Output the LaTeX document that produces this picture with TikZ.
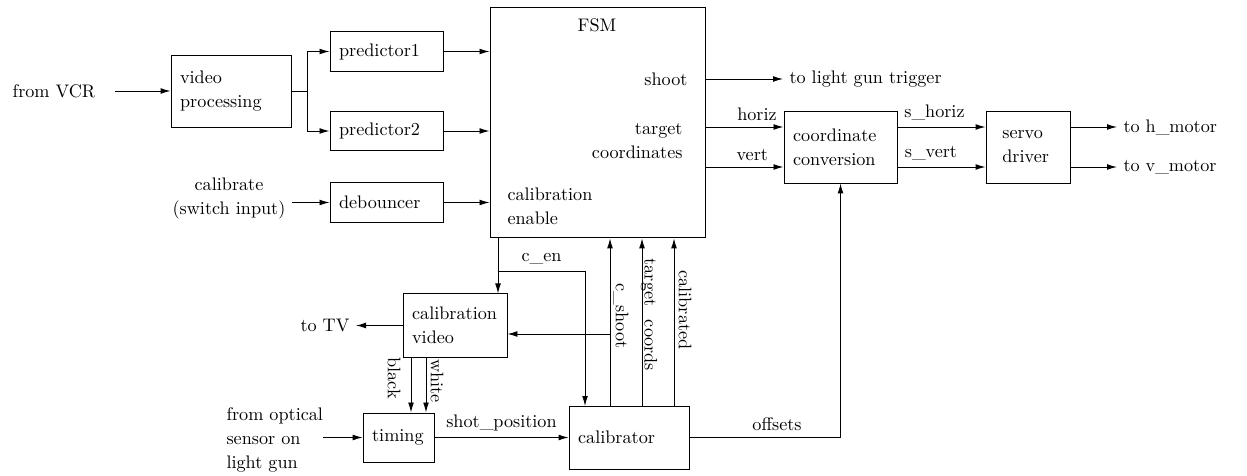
\documentclass[tikz,border=0pt]{standalone}
\usepackage{tikz}
\usetikzlibrary{arrows.meta}

\begin{document}
\begin{tikzpicture}[x=0.55pt,y=-0.55pt,line width=0.5pt,
    >={Latex[length=5.5pt,width=3.2pt]},
    every node/.style={font=\linespread{1.1}\selectfont},
    blk/.style={draw,align=left,inner xsep=5pt,minimum height=21.5pt},
    rot/.style={rotate=-90}]
    \useasboundingbox (0,0) rectangle (1247,476);
    % blocks
    \node[blk,text width=56pt,minimum height=39.6pt] (vp) at (231,91) {video\\processing};
    \node[blk,text width=52.2pt] (pred1) at (386.5,51.5) {predictor1};
    \node[blk,text width=52.2pt] (pred2) at (386.5,131) {predictor2};
    \node[blk,text width=52.2pt] (deb) at (386.5,202.5) {debouncer};
    \node[draw,minimum width=118.3pt,minimum height=127pt] (fsm) at (597.5,122.5) {};
    \node[blk,text width=52.2pt,minimum height=39.6pt] (cc) at (840.5,147) {coordinate\\conversion};
    \node[blk,inner xsep=9pt,text width=28.2pt,minimum height=39.6pt] (sd) at (1028,147) {servo\\driver};
    \node[blk,text width=47.2pt,minimum height=34.7pt] (cv) at (455,325.5) {calibration\\video};
    \node[blk,text width=29pt,minimum height=27pt] (tim) at (398.5,437.5) {timing};
    \node[blk,text width=56pt,minimum height=34.7pt] (cal) at (629,437.5) {calibrator};
    % text inside the FSM
    \node (fsmname) at (597,25) {FSM};
    \node[anchor=east] (shoot) at (694,79) {shoot};
    \node[anchor=east,align=right] (tcoord) at (689,141) {target\\coordinates};
    \node[anchor=west,align=left] (cenable) at (501,206) {calibration\\enable};
    % inputs and outputs
    \node (vcr) at (54,91) {from VCR};
    \node[align=center] (calsw) at (229,198) {calibrate\\(switch input)};
    \node[anchor=west,align=left] (optic) at (220,440) {from optical\\sensor on\\light gun};
    \node[anchor=east] (tv) at (356,325.5) {to TV};
    \node[anchor=west] (trig) at (783,79) {to light gun trigger};
    \node[anchor=west] (hmot) at (1117,127) {to h\_motor};
    \node[anchor=west] (vmot) at (1117,167) {to v\_motor};
    % front end
    \draw[->,shorten <=7pt] (vcr.east) -- (vp.west);
    \coordinate (split) at (307,91);
    \draw (vp.east) -- (split);
    \draw[->] (split) |- (pred1.west);
    \draw[->] (split) |- (pred2.west);
    \draw[->] (calsw.east |- deb.west) -- (deb.west);
    \draw[->] (pred1.east) -- (pred1.east -| fsm.west);
    \draw[->] (pred2.east) -- (pred2.east -| fsm.west);
    \draw[->] (deb.east) -- (deb.east -| fsm.west);
    % FSM outputs
    \draw[->] (fsm.east |- shoot) -- (trig.west);
    \draw[->] (fsm.east |- hmot) -- node[pos=0.66,above] (lhoriz) {horiz} (cc.west |- hmot);
    \draw[->] (fsm.east |- vmot) -- node[pos=0.6,above] (lvert) {vert} (cc.west |- vmot);
    \draw[->] (cc.east |- hmot) -- node[pos=0.42,above] (lshoriz) {s\_horiz} (sd.west |- hmot);
    \draw[->] (cc.east |- vmot) -- node[pos=0.38,above] (lsvert) {s\_vert} (sd.west |- vmot);
    \draw[->] (sd.east |- hmot) -- (hmot.west);
    \draw[->] (sd.east |- vmot) -- (vmot.west);
    % calibration loop
    \coordinate (cenj) at (498,271);
    \coordinate (calin) at (585,406);
    \draw (cenj |- fsm.south) -- (cenj);
    \draw[->] (cenj) -- (cenj |- cv.north);
    \draw[->] (cenj) -| node[pos=0.25,above] (lcen) {c\_en} (calin);
    \coordinate (cs) at (610,406);
    \coordinate (csj) at (610,334);
    \coordinate (tc) at (642,406);
    \coordinate (cd) at (674,406);
    \draw[->] (cs) -- (cs |- fsm.south);
    \draw[->] (csj) -- (csj -| cv.east);
    \draw[->] (tc) -- (tc |- fsm.south);
    \draw[->] (cd) -- (cd |- fsm.south);
    \node[rot] (lcs) at (621,316) {c\_shoot};
    \node[rot] (ltc) at (649,315) {target\_coords};
    \node[rot] (lcd) at (685,310) {calibrated};
    \draw[->] (cv.west) -- (tv.east);
    \coordinate (bl) at (411,357);
    \coordinate (wh) at (426,357);
    \draw[->] (bl) -- (bl |- tim.north);
    \draw[->] (wh) -- (wh |- tim.north);
    \node[rot] (lblack) at (394,378) {black};
    \node[rot] (lwhite) at (437,381) {white};
    \coordinate (optin) at (323,437.5);
    \draw[->] (optin) -- (tim.west);
    \draw[->] (tim.east) -- node[above] (lshot) {shot\_position} (cal.west);
    \draw[->] (cal.east) -| node[pos=0.29,above] (loff) {offsets} (cc.south);
\end{tikzpicture}
\end{document}
